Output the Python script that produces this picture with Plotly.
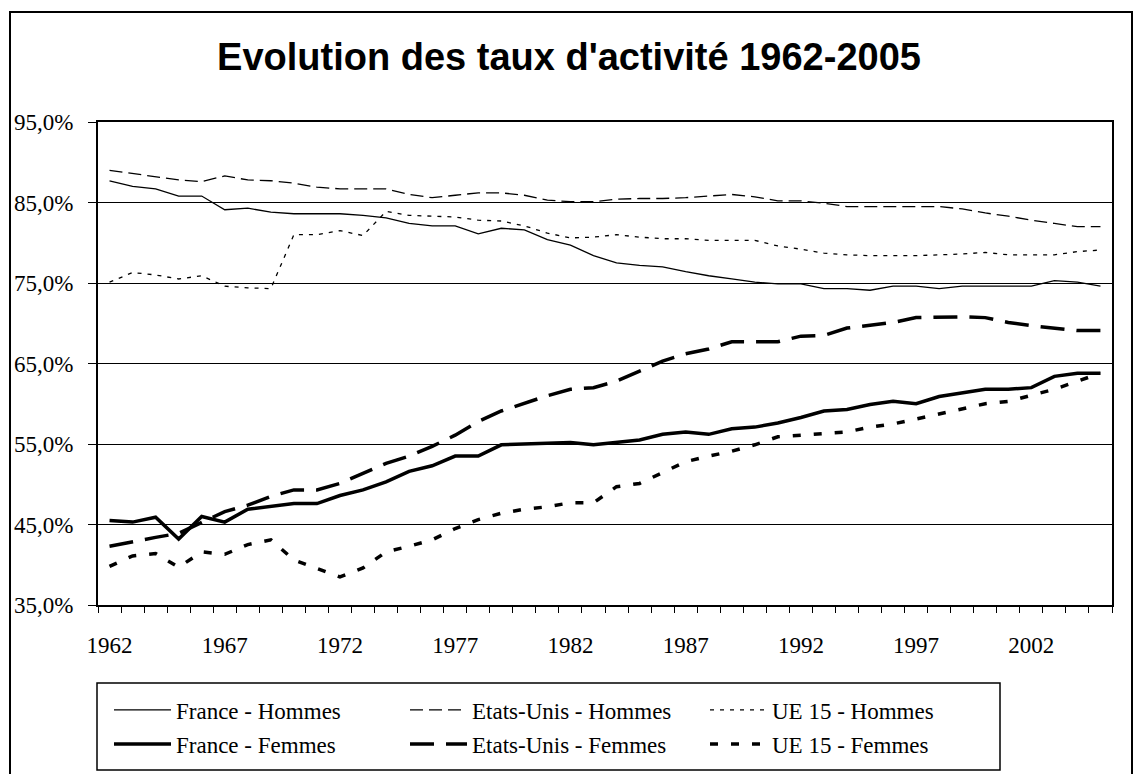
import plotly.graph_objects as go

# ---------------- data ----------------
years = list(range(1962, 2006))

france_hommes = [87.7, 87.0, 86.7, 85.8, 85.8, 84.1, 84.3, 83.8, 83.6, 83.6,
                 83.6, 83.4, 83.1, 82.4, 82.1, 82.1, 81.1, 81.8, 81.6, 80.4,
                 79.7, 78.4, 77.5, 77.2, 77.0, 76.4, 75.9, 75.5, 75.1, 74.9,
                 74.9, 74.3, 74.3, 74.1, 74.6, 74.6, 74.3, 74.6, 74.6, 74.6,
                 74.6, 75.3, 75.1, 74.6]
etats_unis_hommes = [89.0, 88.6, 88.2, 87.8, 87.6, 88.3, 87.8, 87.7, 87.4, 86.9,
                     86.7, 86.7, 86.7, 86.0, 85.6, 85.9, 86.2, 86.2, 85.9, 85.3,
                     85.1, 85.1, 85.4, 85.5, 85.5, 85.6, 85.8, 86.0, 85.7, 85.2,
                     85.2, 84.9, 84.5, 84.5, 84.5, 84.5, 84.5, 84.2, 83.7, 83.3,
                     82.8, 82.4, 82.0, 82.0]
ue15_hommes = [75.1, 76.3, 76.0, 75.5, 75.9, 74.6, 74.4, 74.3, 81.0, 81.0,
               81.5, 80.9, 83.9, 83.4, 83.3, 83.2, 82.8, 82.7, 82.1, 81.2,
               80.6, 80.7, 81.0, 80.7, 80.5, 80.5, 80.3, 80.3, 80.3, 79.6,
               79.2, 78.7, 78.5, 78.4, 78.4, 78.4, 78.5, 78.6, 78.8, 78.5,
               78.5, 78.5, 78.9, 79.1]
france_femmes = [45.5, 45.3, 45.9, 43.2, 46.0, 45.3, 46.9, 47.3, 47.6, 47.6,
                 48.6, 49.3, 50.3, 51.6, 52.3, 53.5, 53.5, 54.9, 55.0, 55.0,
                 55.2, 54.9, 55.2, 55.5, 56.2, 56.5, 56.2, 56.9, 57.1, 57.6,
                 58.3, 59.1, 59.3, 59.9, 60.3, 60.0, 60.9, 61.3, 61.8, 61.8,
                 62.0, 63.4, 63.8, 63.8]
etats_unis_femmes = [42.3, 42.9, 43.4, 43.9, 45.2, 46.6, 47.4, 48.5, 49.3, 49.3,
                     50.1, 51.3, 52.6, 53.5, 54.7, 56.1, 57.8, 59.1, 60.1, 61.0,
                     61.8, 62.0, 62.8, 64.0, 65.3, 66.2, 66.8, 67.7, 67.7, 67.7,
                     68.4, 68.5, 69.4, 69.7, 70.1, 70.7, 70.8, 70.8, 70.7, 70.1,
                     69.7, 69.4, 69.1, 69.1]
ue15_femmes = [39.8, 41.1, 41.4, 39.7, 41.6, 41.3, 42.5, 43.1, 40.6, 39.6,
               38.5, 39.6, 41.6, 42.3, 43.1, 44.5, 45.6, 46.4, 46.9, 47.2,
               47.7, 47.7, 49.7, 50.1, 51.4, 52.8, 53.5, 54.1, 54.9, 55.9,
               56.1, 56.3, 56.5, 57.1, 57.5, 58.1, 58.7, 59.4, 60.0, 60.3,
               61.0, 61.8, 62.8, 63.8]

series_names = ["France - Hommes", "Etats-Unis - Hommes", "UE 15 - Hommes",
                "France - Femmes", "Etats-Unis - Femmes", "UE 15 - Femmes"]
series_values = [france_hommes, etats_unis_hommes, ue15_hommes,
                 france_femmes, etats_unis_femmes, ue15_femmes]

y_tickvals = [35, 45, 55, 65, 75, 85, 95]
y_ticktext = ["35,0%", "45,0%", "55,0%", "65,0%", "75,0%", "85,0%", "95,0%"]

title_text = "Evolution des taux d'activité 1962-2005"

# ---------------- layout geometry (page pixels) ----------------
W, H = 1135, 774
PLOT_L, PLOT_R, PLOT_T, PLOT_B = 98, 1112, 122, 605
ML, MT = PLOT_L, PLOT_T
MR, MB = W - PLOT_R, H - PLOT_B
PW = PLOT_R - PLOT_L
PH = PLOT_B - PLOT_T


def px_x(px):
    return (px - PLOT_L) / PW


def px_y(py):
    return (PLOT_B - py) / PH


styles = [
    dict(width=1.3, dash="solid"),
    dict(width=1.3, dash="13px,6px"),
    dict(width=1.3, dash="4px,6px"),
    dict(width=3.5, dash="solid"),
    dict(width=3.5, dash="24px,12px"),
    dict(width=3.5, dash="8px,13px"),
]
legend_ids = ["legend", "legend2", "legend3", "legend4", "legend5", "legend6"]
legend_pos = [(109, 710), (405, 710), (705, 710),
              (109, 744), (405, 744), (705, 744)]

SERIF = "Liberation Serif, Times New Roman, serif"

fig = go.Figure()
for name, vals, st, lg in zip(series_names, series_values, styles, legend_ids):
    fig.add_trace(go.Scatter(
        x=years, y=vals, mode="lines", name=name, legend=lg,
        line=dict(color="black", width=st["width"], dash=st["dash"]),
        hoverinfo="skip",
    ))

legends = {}
for lg, (lx, ly) in zip(legend_ids, legend_pos):
    legends[lg] = dict(
        x=px_x(lx), y=px_y(ly), xanchor="left", yanchor="middle",
        orientation="h", bgcolor="rgba(0,0,0,0)", borderwidth=0,
        itemwidth=57, font=dict(family=SERIF, size=23, color="black"),
    )

fig.update_layout(
    width=W, height=H,
    margin=dict(l=ML, r=MR, t=MT, b=MB, autoexpand=False),
    paper_bgcolor="white", plot_bgcolor="white",
    showlegend=True,
    title=dict(text=title_text, x=569 / W, xref="container",
               xanchor="center",
               y=(H - 57) / H, yref="container", yanchor="middle",
               font=dict(family="Liberation Sans, Arial, sans-serif", size=38,
                         color="black", weight=700)),
    xaxis=dict(range=[1961.5, 2005.5], tickmode="linear", tick0=1962, dtick=5,
               tickformat="d", ticks="", showgrid=False, zeroline=False,
               automargin=False,
               showline=True, linecolor="black", linewidth=2, mirror=True,
               tickfont=dict(family=SERIF, size=23, color="black"),
               ticklabelstandoff=18,
               minor=dict(ticks="outside", tick0=1961.5, dtick=1, ticklen=6,
                          tickcolor="black", tickwidth=1, showgrid=False)),
    yaxis=dict(range=[35, 95], tickmode="array", tickvals=y_tickvals,
               ticktext=y_ticktext, ticks="outside", ticklen=8,
               tickcolor="black", tickwidth=1, showgrid=True,
               gridcolor="black", gridwidth=1, zeroline=False,
               automargin=False,
               showline=True, linecolor="black", linewidth=2, mirror=True,
               tickfont=dict(family=SERIF, size=23, color="black"),
               ticklabelstandoff=10),
    shapes=[
        # outer chart border
        dict(type="rect", xref="paper", yref="paper",
             x0=px_x(10), x1=px_x(1132), y0=px_y(790), y1=px_y(12),
             line=dict(color="black", width=2), fillcolor="rgba(0,0,0,0)",
             layer="below"),
        # legend box
        dict(type="rect", xref="paper", yref="paper",
             x0=px_x(97), x1=px_x(1000), y0=px_y(770), y1=px_y(683),
             line=dict(color="black", width=1.5), fillcolor="rgba(0,0,0,0)",
             layer="below"),
    ],
    **legends,
)

fig.write_html(
    "out.html",
    config={"displayModeBar": False, "staticPlot": True},
    post_script="document.body.style.margin='0';"
                "document.body.style.overflow='hidden';",
)
